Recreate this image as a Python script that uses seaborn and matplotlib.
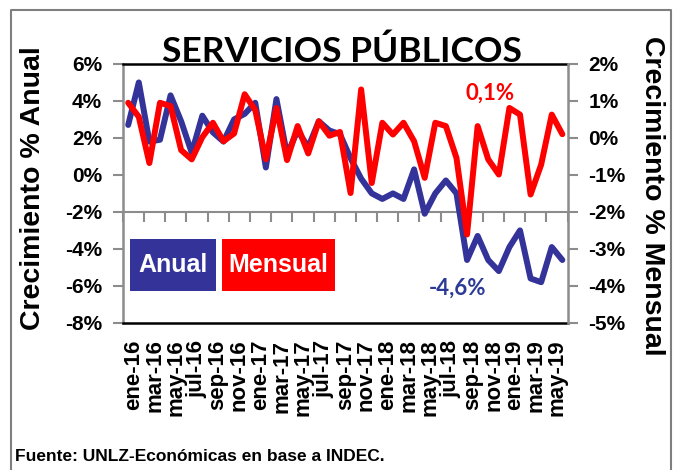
import numpy as np
import pandas as pd
import seaborn as sns
import matplotlib.pyplot as plt
from matplotlib.lines import Line2D
from matplotlib.patches import Rectangle

sns.set_style('white')
plt.rcParams['font.family'] = ['Liberation Sans', 'DejaVu Sans']
plt.rcParams['font.weight'] = 'bold'
plt.rcParams['text.color'] = 'black'
plt.rcParams['axes.labelcolor'] = 'black'
plt.rcParams['xtick.color'] = 'black'
plt.rcParams['ytick.color'] = 'black'

meses = ['ene', 'feb', 'mar', 'abr', 'may', 'jun', 'jul', 'ago', 'sep', 'oct', 'nov', 'dic']
anios = ['16', '17', '18', '19']
periodos = [f'{m}-{a}' for a in anios for m in meses][:42]   # ene-16 .. jun-19

# variacion interanual (%), eje izquierdo
anual = [2.7, 5.0, 1.8, 1.9, 4.3, 2.9, 1.2, 3.2, 2.3, 1.8,
         3.0, 3.3, 3.9, 0.4, 4.1, 1.1, 2.4, 1.5, 2.9, 2.4,
         2.2, 0.9, -0.2, -1.0, -1.3, -1.0, -1.3, 0.3, -2.1, -1.0,
         -0.3, -1.0, -4.6, -3.3, -4.6, -5.2, -3.9, -3.0, -5.6, -5.8,
         -3.9, -4.6]

# variacion mensual (%), eje derecho
mensual = [0.95, 0.57, -0.68, 0.95, 0.86, -0.33, -0.58, 0.02, 0.41, -0.09,
           0.12, 1.18, 0.75, -0.58, 0.81, -0.60, 0.32, -0.42, 0.45, 0.06,
           0.16, -1.49, 1.31, -1.22, 0.41, 0.09, 0.41, -0.09, -1.08, 0.41,
           0.32, -0.54, -2.61, 0.32, -0.58, -0.99, 0.81, 0.63, -1.53, -0.72,
           0.63, 0.10]

ticks_izq = [-8, -6, -4, -2, 0, 2, 4, 6]
ticks_der = [-5, -4, -3, -2, -1, 0, 1, 2]

df = pd.DataFrame({'periodo': periodos, 'idx': np.arange(len(periodos)),
                   'anual': anual, 'mensual': mensual})

AZUL = '#333399'
ROJO = '#FF0000'
GRIS = '#8C8C8C'

fig = plt.figure(figsize=(6.79, 4.70), dpi=100)
ax = fig.add_axes([0.181, 0.313, 0.655, 0.551])
ax2 = ax.twinx()

sns.lineplot(data=df, x='idx', y='anual', ax=ax, color=AZUL, lw=4.3,
             solid_joinstyle='round')
sns.lineplot(data=df, x='idx', y='mensual', ax=ax2, color=ROJO, lw=4.3,
             solid_joinstyle='round')

ax.set_xlim(-0.5, len(periodos) - 0.5)
ax.set_ylim(-8, 6)
ax2.set_ylim(-5, 2)
ax.set_yticks(ticks_izq, labels=[f'{v}%' for v in ticks_izq])
ax2.set_yticks(ticks_der, labels=[f'{v}%' for v in ticks_der])

ax.set_xticks(np.arange(0, len(periodos), 2) + 0.5, labels=periodos[::2],
              rotation=90, fontsize=16, fontweight='bold')
ax.tick_params(axis='x', length=0, pad=12)
ax.set_xlabel('')

ax.tick_params(axis='y', left=True, direction='out', length=7, width=1.5,
               color=GRIS, labelsize=15, pad=8)
ax2.tick_params(axis='y', right=True, direction='out', length=7, width=1.5,
                color=GRIS, labelsize=15, pad=8)

for s in ['top', 'bottom']:
    ax.spines[s].set_color('black')
    ax.spines[s].set_linewidth(1.8)
ax.spines['left'].set_color(GRIS)
ax.spines['left'].set_linewidth(1.8)
ax.spines['right'].set_visible(False)
for s in ['top', 'bottom', 'left']:
    ax2.spines[s].set_visible(False)
ax2.spines['right'].set_color(GRIS)
ax2.spines['right'].set_linewidth(1.8)

# eje horizontal que cruza en -2%
sec = ax.secondary_xaxis(6 / 14)
sec.set_xticks(np.arange(-0.5, len(periodos), 2))
sec.tick_params(axis='x', direction='out', length=7, width=1.5, color=GRIS,
                labelbottom=False, labeltop=False)
sec.spines['bottom'].set_color(GRIS)
sec.spines['bottom'].set_linewidth(1.5)

ax.set_ylabel('Crecimiento % Anual', fontsize=20.5, fontweight='bold',
              rotation=90, ha='center', va='center', rotation_mode='default')
ax.yaxis.set_label_coords(-0.203, 0.522)
ax2.set_ylabel('Crecimiento % Mensual', fontsize=20.5, fontweight='bold',
               rotation=-90, ha='center', va='center', rotation_mode='default')
ax2.yaxis.set_label_coords(1.19, 0.49)

# leyenda en cajas de color
ax2.add_patch(Rectangle((0.016, 0.124), 0.193, 0.201, transform=ax.transAxes,
                        fc=AZUL, ec='none'))
ax2.add_patch(Rectangle((0.2225, 0.124), 0.254, 0.201, transform=ax.transAxes,
                        fc=ROJO, ec='none'))
ax2.text(0.1125, 0.222, 'Anual', transform=ax.transAxes, ha='center', va='center',
         color='white', fontsize=18, fontweight='bold')
ax2.text(0.3495, 0.222, 'Mensual', transform=ax.transAxes, ha='center', va='center',
         color='white', fontsize=18, fontweight='bold')

ax2.text(0.825, 0.888, '0,1%', transform=ax.transAxes, ha='center', va='center',
         color=ROJO, fontsize=16, fontweight='bold', family=['Lato', 'DejaVu Sans'])
ax2.text(0.753, 0.135, '-4,6%', transform=ax.transAxes, ha='center', va='center',
         color='#2B3A97', fontsize=16, fontweight='bold', family=['Lato', 'DejaVu Sans'])

fig.text(0.504, 0.868, 'SERVICIOS PÚBLICOS', ha='center', va='baseline',
         fontsize=25.5, fontweight='bold', family=['Lato', 'DejaVu Sans'])
fig.text(0.022, 0.019, 'Fuente: UNLZ-Económicas en base a INDEC.', ha='left',
         va='baseline', fontsize=12.5, fontweight='bold')

fig.add_artist(Line2D([0.016, 0.016, 0.988, 0.988], [0, 0.979, 0.979, 0],
                      transform=fig.transFigure, color='#7F7F7F', lw=1.5))

fig.savefig('out.png', dpi=100)
